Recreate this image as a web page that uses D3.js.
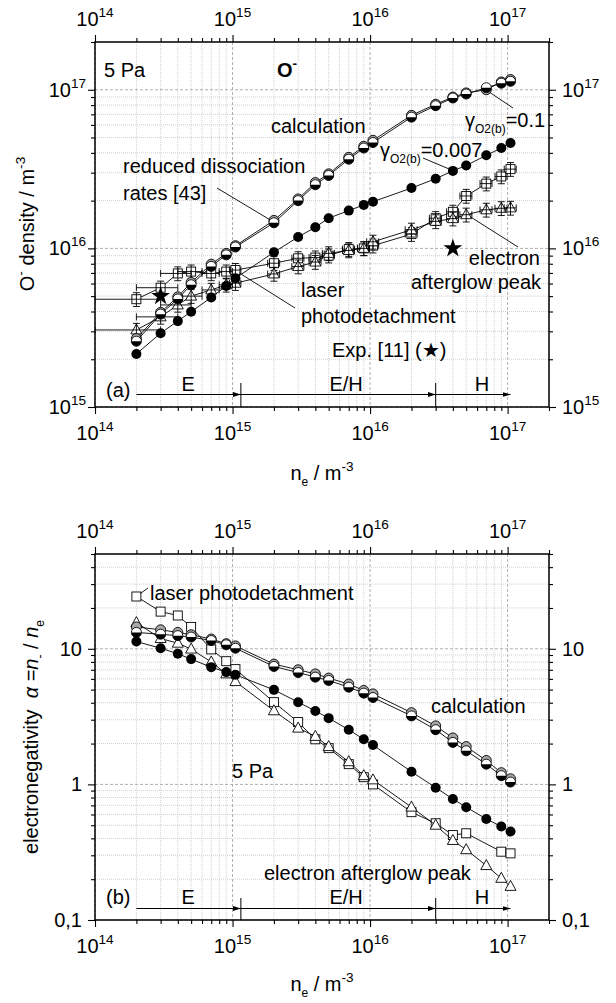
<!DOCTYPE html>
<html>
<head>
<meta charset="utf-8">
<script src="https://cdn.jsdelivr.net/npm/d3@7"></script>
<style>
  body { margin: 0; background: #fff; }
  svg { font-family: "Liberation Sans", Arial, sans-serif; }
  .grid-major { stroke: #9a9a9a; stroke-dasharray: 3,2; stroke-width: 0.8; }
  .grid-minor { stroke: #c4c4c4; stroke-dasharray: 1,1; stroke-width: 0.8; }
</style>
</head>
<body>
<svg id="chart" width="616" height="1003"></svg>
<script>
// electron density of every measured / calculated point
var ne = [2e14, 3e14, 4e14, 5e14, 7e14, 9e14, 1.05e15, 2e15, 3e15, 4e15, 5e15,
          7e15, 9e15, 1.05e16, 2e16, 3e16, 4e16, 5e16, 7e16, 9e16, 1.05e17];

// (a) O- density / m^-3
var calcGamma01 = [2.7e15, 3.95e15, 4.95e15, 6.1e15, 7.95e15, 9.3e15, 1.04e16, 1.5e16, 2.05e16, 2.6e16, 2.95e16,
                   3.75e16, 4.4e16, 4.8e16, 6.9e16, 8.1e16, 9.0e16, 9.55e16, 1.0e17, 1.12e17, 1.16e17];
var calcReduced = [2.6e15, 3.85e15, 4.8e15, 5.9e15, 7.7e15, 9.1e15, 1.02e16, 1.45e16, 2.0e16, 2.52e16, 2.88e16,
                   3.65e16, 4.29e16, 4.65e16, 6.72e16, 7.93e16, 8.87e16, 9.4e16, 1.03e17, 1.1e17, 1.13e17];
var calcGamma0007 = [2.16e15, 2.92e15, 3.48e15, 3.99e15, 4.9e15, 5.8e15, 6.48e15, 9.46e15, 1.18e16, 1.36e16, 1.55e16,
                     1.73e16, 1.88e16, 1.97e16, 2.4e16, 2.75e16, 3.08e16, 3.33e16, 3.86e16, 4.29e16, 4.62e16];
var laserDensity = [4.78e15, 5.65e15, 6.95e15, 7.14e15, 6.95e15, 7.14e15, 7.3e15, 8.06e15, 8.66e15, 8.75e15, 9.0e15,
                    9.89e15, 1.0e16, 1.04e16, 1.23e16, 1.55e16, 1.7e16, 2.14e16, 2.56e16, 2.84e16, 3.16e16];
var afterglowDensity = [3.06e15, 3.7e15, 4.4e15, 5.0e15, 5.47e15, 5.89e15, 6.03e15, 6.9e15, 7.68e15, 8.2e15, 9.3e15,
                        9.7e15, 1.0e16, 1.1e16, 1.31e16, 1.48e16, 1.54e16, 1.63e16, 1.75e16, 1.79e16, 1.8e16];
var neErr = [1e14, 1e14, 1e14, 1e14, 1e14, 1e14, 1e14, 2e14, 3e14, 4e14, 5e14,
             7e14, 9e14, 1.05e15, 2e15, 3e15, 4e15, 5e15, 7e15, 9e15, 1.05e16];
var densityRelErr = 0.1;
var expNe = [3e14, 4e16];
var expDensity = [5.0e15, 1.0e16];

// (b) electronegativity alpha = n- / ne
var alphaGamma01 = [14.5, 13.8, 13.2, 12.7, 11.8, 10.9, 10.5, 7.71, 7.0, 6.53, 6.08,
                    5.49, 4.93, 4.65, 3.38, 2.7, 2.2, 1.9, 1.5, 1.22, 1.1];
var alphaReduced = [13.2, 12.8, 12.5, 12.2, 11.5, 10.7, 10.1, 7.41, 6.68, 6.18, 5.84,
                    5.21, 4.71, 4.37, 3.2, 2.53, 2.04, 1.77, 1.41, 1.16, 1.04];
var alphaGamma0007 = [11.3, 10.1, 9.19, 8.39, 7.32, 6.73, 6.43, 4.98, 4.04, 3.48, 3.08,
                      2.53, 2.15, 1.95, 1.24, 0.946, 0.781, 0.679, 0.556, 0.489, 0.449];
var alphaLaser = [24.3, 18.8, 17.6, 14.5, 9.9, 8.1, 7.08, 4.04, 2.88, 2.15, 1.85,
                  1.41, 1.13, 1.0, 0.624, 0.517, 0.423, 0.436, null, 0.319, 0.31];
var alphaAfterglow = [15.6, 11.9, 11.0, 9.95, 8.0, 6.53, 5.73, 3.49, 2.6, 2.26, 1.9,
                      1.47, 1.16, 1.08, 0.68, 0.5, 0.386, 0.33, 0.252, 0.203, 0.177];

// axes and discharge modes
var xMajor = [1e14, 1e15, 1e16, 1e17];
var xTickExp = ['14', '15', '16', '17'];
var densMajor = [1e15, 1e16, 1e17];
var densTickExp = ['15', '16', '17'];
var alphaMajor = [0.1, 1, 10];
var alphaTickLabels = ['0,1', '1', '10'];
var regionEdges = [2e14, 1.15e15, 3e16, 1.05e17];
var regionNames = ['E', 'E/H', 'H'];
var regionLabelNe = [4.75e14, 6.7e15, 6.5e16];

var svg = d3.select('#chart');

var x = d3.scaleLog().domain([1e14, 2e17]).range([95, 549]);
var yDens = d3.scaleLog().domain([1e15, 2e17]).range([407, 42]);
var yAlpha = d3.scaleLog().domain([0.1, 50]).range([920, 554]);

svg.append('defs').append('marker')
  .attr('id', 'arr')
  .attr('viewBox', '0 0 8 5')
  .attr('refX', 8).attr('refY', 2.5)
  .attr('markerWidth', 8).attr('markerHeight', 5)
  .attr('markerUnits', 'userSpaceOnUse')
  .attr('orient', 'auto')
  .append('path').attr('d', 'M0,0L8,2.5L0,5Z').attr('fill', '#000');

function isMajor(v) {
  var l = Math.log10(v);
  return Math.abs(l - Math.round(l)) < 1e-6;
}

// text with sub/superscripts, parts are strings or {t, sup, sub, it, b}
function rich(g, px, py, parts, anchor, size) {
  size = size || 20;
  var t = g.append('text').attr('x', px).attr('y', py)
    .attr('font-size', size).attr('text-anchor', anchor || 'start');
  var cur = 0;
  parts.forEach(function(p) {
    if (typeof p === 'string') p = { t: p };
    var off = p.sup ? -0.45 * size : (p.sub ? 0.3 * size : 0);
    var ts = t.append('tspan').attr('dy', off - cur).text(p.t);
    if (p.sup) ts.attr('font-size', size * 0.68);
    if (p.sub) ts.attr('font-size', size * 0.6);
    if (p.it) ts.attr('font-style', 'italic');
    if (p.b) ts.attr('font-weight', 'bold');
    cur = off;
  });
  return t;
}

function drawPanel(y, yMajor, yLabel) {
  var g = svg.append('g');
  var y0 = y.range()[0], y1 = y.range()[1];

  // grid
  g.selectAll(null).data(x.ticks()).enter().append('line')
    .attr('class', function(d) { return isMajor(d) ? 'grid-major' : 'grid-minor'; })
    .attr('x1', function(d) { return x(d); }).attr('x2', function(d) { return x(d); })
    .attr('y1', y1).attr('y2', y0);
  g.selectAll(null).data(y.ticks()).enter().append('line')
    .attr('class', function(d) { return isMajor(d) ? 'grid-major' : 'grid-minor'; })
    .attr('y1', function(d) { return y(d); }).attr('y2', function(d) { return y(d); })
    .attr('x1', 95).attr('x2', 549);

  var xMinor = x.ticks().filter(function(d) { return !isMajor(d); });
  var yMinor = y.ticks().filter(function(d) { return !isMajor(d); });

  // ticks on all four sides, pointing outwards
  [[d3.axisBottom, x, 'translate(0,' + y0 + ')', xMajor, xMinor],
   [d3.axisTop, x, 'translate(0,' + y1 + ')', xMajor, xMinor],
   [d3.axisLeft, y, 'translate(95,0)', yMajor, yMinor],
   [d3.axisRight, y, 'translate(549,0)', yMajor, yMinor]].forEach(function(a) {
    [[a[3], 7], [a[4], 4]].forEach(function(set) {
      var ax = g.append('g').attr('transform', a[2])
        .call(a[0](a[1]).tickValues(set[0]).tickSize(set[1]).tickFormat(''));
      ax.select('.domain').remove();
      ax.selectAll('line').attr('stroke', '#000').attr('stroke-width', 1.1);
    });
  });

  g.append('rect')
    .attr('x', 95).attr('y', y1).attr('width', 454).attr('height', y0 - y1)
    .attr('fill', 'none').attr('stroke', '#000').attr('stroke-width', 1.5);

  // x tick labels, top and bottom
  xMajor.forEach(function(v, i) {
    rich(g, x(v), y0 + 33, ['10', { t: xTickExp[i], sup: 1 }], 'middle');
    rich(g, x(v), y1 - 16, ['10', { t: xTickExp[i], sup: 1 }], 'middle');
  });

  yLabel(g, y);
  return g;
}

function drawSeries(g, y, ys, kind) {
  var pts = ne.map(function(v, i) { return [v, ys[i]]; })
    .filter(function(d) { return d[1] != null; });
  g.append('path').datum(pts)
    .attr('d', d3.line().x(function(d) { return x(d[0]); }).y(function(d) { return y(d[1]); }))
    .attr('fill', 'none').attr('stroke', '#000').attr('stroke-width', 0.9);
  var m = g.selectAll(null).data(pts).enter().append('g')
    .attr('transform', function(d) { return 'translate(' + x(d[0]) + ',' + y(d[1]) + ')'; });
  if (kind === 'black') {
    m.append('circle').attr('r', 5).attr('fill', '#000');
  } else if (kind === 'gray') {
    m.append('circle').attr('r', 5).attr('fill', '#a8a8a8').attr('stroke', '#000').attr('stroke-width', 0.9);
  } else if (kind === 'half') {
    m.append('circle').attr('r', 5).attr('fill', '#fff');
    m.append('path').attr('d', 'M-5,0A5,5 0 0,0 5,0Z').attr('fill', '#000');
    m.append('circle').attr('r', 5).attr('fill', 'none').attr('stroke', '#000').attr('stroke-width', 0.9);
  } else if (kind === 'square') {
    m.append('rect').attr('x', -4.5).attr('y', -4.5).attr('width', 9).attr('height', 9)
      .attr('fill', '#fff').attr('stroke', '#000').attr('stroke-width', 0.9);
  } else if (kind === 'triangle') {
    m.append('path').attr('d', 'M0,-6L5.5,4L-5.5,4Z')
      .attr('fill', '#fff').attr('stroke', '#000').attr('stroke-width', 0.9);
  }
}

function drawErrors(g, y, ys) {
  var e = g.append('g').attr('stroke', '#000').attr('stroke-width', 0.9)
    .attr('clip-path', 'url(#clipA)');
  ne.forEach(function(v, i) {
    var cx = x(v), cy = y(ys[i]);
    var ya = y(ys[i] * (1 - densityRelErr)), yb = y(ys[i] * (1 + densityRelErr));
    var xa = x(v - neErr[i]), xb = x(v + neErr[i]);
    e.append('line').attr('x1', cx).attr('x2', cx).attr('y1', ya).attr('y2', yb);
    e.append('line').attr('x1', cx - 3.5).attr('x2', cx + 3.5).attr('y1', ya).attr('y2', ya);
    e.append('line').attr('x1', cx - 3.5).attr('x2', cx + 3.5).attr('y1', yb).attr('y2', yb);
    e.append('line').attr('x1', xa).attr('x2', xb).attr('y1', cy).attr('y2', cy);
    e.append('line').attr('x1', xa).attr('x2', xa).attr('y1', cy - 3.5).attr('y2', cy + 3.5);
    e.append('line').attr('x1', xb).attr('x2', xb).attr('y1', cy - 3.5).attr('y2', cy + 3.5);
  });
}

function leader(g, px1, py1, px2, py2) {
  g.append('line').attr('x1', px1).attr('y1', py1).attr('x2', px2).attr('y2', py2)
    .attr('stroke', '#000').attr('stroke-width', 0.9);
}

function drawRegions(g, lineY, barTop, barBottom, labelY) {
  for (var i = 0; i < regionNames.length; i++) {
    g.append('line')
      .attr('x1', x(regionEdges[i])).attr('x2', x(regionEdges[i + 1]))
      .attr('y1', lineY).attr('y2', lineY)
      .attr('stroke', '#000').attr('stroke-width', 1).attr('marker-end', 'url(#arr)');
    rich(g, x(regionLabelNe[i]), labelY, [regionNames[i]], 'middle');
  }
  regionEdges.slice(1, 3).forEach(function(v) {
    g.append('line').attr('x1', x(v)).attr('x2', x(v)).attr('y1', barTop).attr('y2', barBottom)
      .attr('stroke', '#000').attr('stroke-width', 1);
  });
}

svg.append('clipPath').attr('id', 'clipA').append('rect')
  .attr('x', 95).attr('y', 42).attr('width', 454).attr('height', 365);

// ---------- panel (a) ----------
var gA = drawPanel(yDens, densMajor, function(g, y) {
  densMajor.forEach(function(v, i) {
    rich(g, 86, y(v) + 7, ['10', { t: densTickExp[i], sup: 1 }], 'end');
    rich(g, 562, y(v) + 7, ['10', { t: densTickExp[i], sup: 1 }], 'start');
  });
  var yl = g.append('g').attr('transform', 'translate(34,224) rotate(-90)');
  rich(yl, 0, 0, ['O', { t: '-', sup: 1 }, ' density / m', { t: '-3', sup: 1 }], 'middle');
});
rich(gA, 322, 480, ['n', { t: 'e', sub: 1 }, ' / m', { t: '-3', sup: 1 }], 'middle');

drawSeries(gA, yDens, laserDensity, 'square');
drawErrors(gA, yDens, laserDensity);
drawSeries(gA, yDens, afterglowDensity, 'triangle');
drawErrors(gA, yDens, afterglowDensity);
drawSeries(gA, yDens, calcGamma01, 'gray');
drawSeries(gA, yDens, calcReduced, 'half');
drawSeries(gA, yDens, calcGamma0007, 'black');

gA.selectAll(null).data(expNe).enter().append('path')
  .attr('d', d3.symbol(d3.symbolStar, 110))
  .attr('transform', function(d, i) { return 'translate(' + x(d) + ',' + yDens(expDensity[i]) + ')'; })
  .attr('fill', '#000');

rich(gA, 104, 77, ['5 Pa']);
rich(gA, 277, 77, [{ t: 'O', b: 1 }, { t: '-', sup: 1, b: 1 }]);
rich(gA, 271, 133, ['calculation']);
rich(gA, 123, 173, ['reduced dissociation']);
rich(gA, 123, 200, ['rates [43]']);
rich(gA, 465, 127, ['\u03b3', { t: 'O2(b)', sub: 1 }, '=0.1']);
rich(gA, 380, 157, ['\u03b3', { t: 'O2(b)', sub: 1 }, '=0.007']);
rich(gA, 540, 265, ['electron'], 'end');
rich(gA, 541, 289, ['afterglow peak'], 'end');
rich(gA, 301, 297, ['laser']);
rich(gA, 301, 323, ['photodetachment']);
rich(gA, 332, 357, ['Exp. [11] (\u2605)']);
rich(gA, 106, 397, ['(a)']);

leader(gA, x(ne[7]) - 4, yDens(calcReduced[7]) - 3, 217, 188);
leader(gA, x(ne[18]) + 4, yDens(calcGamma01[18]) + 3, 513, 108);
leader(gA, x(ne[16]) - 4, yDens(calcGamma0007[16]) - 2, 423, 158);
leader(gA, x(ne[17]) + 4, yDens(afterglowDensity[17]) + 2, 518, 247);
leader(gA, x(ne[6]) + 4, yDens(laserDensity[6]) + 3, 295, 308);

drawRegions(gA, 394.5, 383, 407, 391);

// ---------- panel (b) ----------
var gB = drawPanel(yAlpha, alphaMajor, function(g, y) {
  alphaMajor.forEach(function(v, i) {
    rich(g, 82, y(v) + 7, [alphaTickLabels[i]], 'end');
    rich(g, 562, y(v) + 7, [alphaTickLabels[i]], 'start');
  });
  var yl = g.append('g').attr('transform', 'translate(38,737) rotate(-90)');
  rich(yl, 0, 0, ['electronegativity\u00a0\u00a0', { t: '\u03b1', it: 1 }, ' =', { t: 'n', it: 1 },
                  { t: '-', sub: 1 }, ' / ', { t: 'n', it: 1 }, { t: 'e', sub: 1 }], 'middle');
});
rich(gB, 322, 991, ['n', { t: 'e', sub: 1 }, ' / m', { t: '-3', sup: 1 }], 'middle');

drawSeries(gB, yAlpha, alphaLaser, 'square');
drawSeries(gB, yAlpha, alphaAfterglow, 'triangle');
drawSeries(gB, yAlpha, alphaGamma01, 'gray');
drawSeries(gB, yAlpha, alphaReduced, 'half');
drawSeries(gB, yAlpha, alphaGamma0007, 'black');

rich(gB, 150, 600, ['laser photodetachment']);
rich(gB, 431, 713, ['calculation']);
rich(gB, 232, 778, ['5 Pa']);
rich(gB, 264, 880, ['electron afterglow peak']);
rich(gB, 106, 904, ['(b)']);
leader(gB, x(ne[0]) + 4, yAlpha(alphaLaser[0]) - 3, 148, 588);

drawRegions(gB, 908.5, 898, 920, 904);
</script>
</body>
</html>
